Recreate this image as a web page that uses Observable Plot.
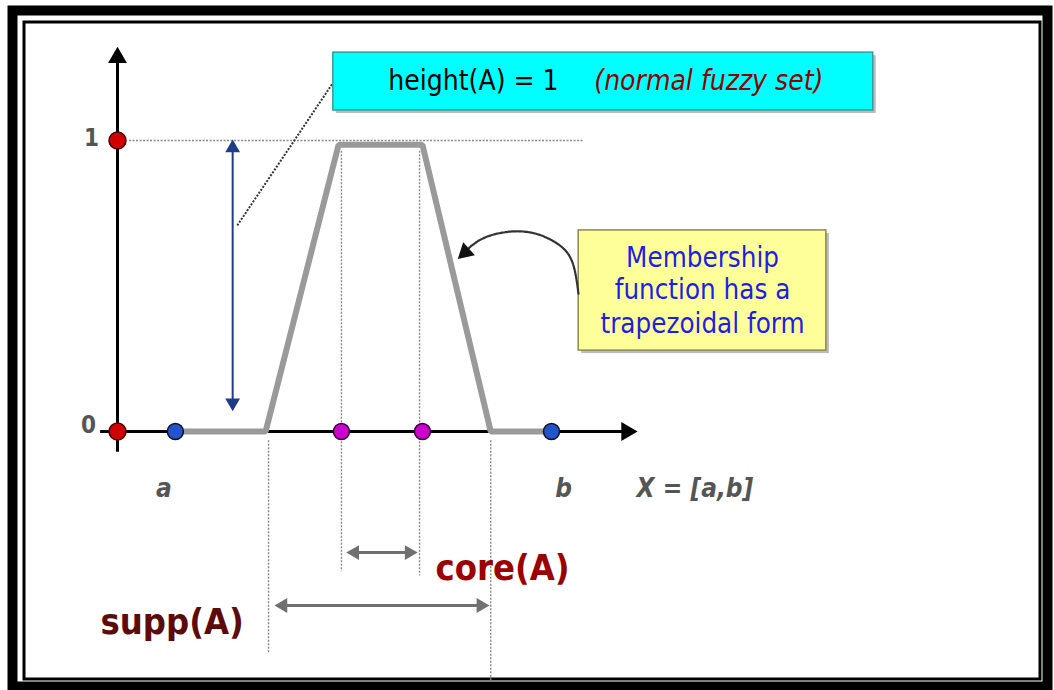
<!DOCTYPE html>
<html><head><meta charset="utf-8">
<script src="https://cdn.jsdelivr.net/npm/d3@7"></script>
<script src="https://cdn.jsdelivr.net/npm/@observablehq/plot@0.6"></script>
<style>html,body{margin:0;padding:0;background:#fff;overflow:hidden}</style>
</head><body><div id="chart"></div>
<script>
// Trapezoidal membership function (x in universe units, y = membership)
const trapX = [1, 2.56, 3.82, 5.27, 6.45, 7.5];
const trapY = [0, 0, 0.985, 0.985, 0, 0];
// Marked points
const redPts = [{x: 0, y: 0}, {x: 0, y: 1}];
const bluePts = [{x: 1, y: 0}, {x: 7.5, y: 0}];
const magentaPts = [{x: 3.87, y: 0}, {x: 5.27, y: 0}];
// Dotted guide lines
const guideH = [{x1: 0.2, x2: 8.05, y: 1}];
const guideV = [
  {x: 2.61, y1: -0.03, y2: -0.76},
  {x: 3.87, y1: 0.965, y2: -0.48},
  {x: 5.22, y1: 0.965, y2: -0.495},
  {x: 6.45, y1: -0.03, y2: -0.86}
];
// Curved callout path (yellow box -> right edge)
const curveX = [7.966, 7.862, 7.62, 7.223, 6.791, 6.394, 6.169, 6.065];
const curveY = [0.474, 0.581, 0.643, 0.680, 0.687, 0.670, 0.646, 0.629];
// Texts
const axisLabels = [{x: -0.45, y: 1.007, t: "1"}, {x: -0.5, y: 0.02, t: "0"}];
const xLabels = [{x: 0.8, y: -0.196, t: "a"}, {x: 7.71, y: -0.196, t: "b"}];
const universeLabel = "X = [a,b]";
const heightText = "height(A) = 1";
const normalText = "(normal fuzzy set)";
const mfLines = ["Membership", "function has a", "trapezoidal form"];
const mfLineY = [0.596, 0.484, 0.370];

const FONT = "'DejaVu Sans Condensed', 'DejaVu Sans', sans-serif";
const tri = (data, opts) => Plot.dot(data, {x: "x", y: "y", symbol: "triangle", rotate: "r", stroke: "none", ...opts});

const chart = Plot.plot({
  width: 1054, height: 690, margin: 0,
  x: {domain: [0, 7.5], range: [117, 551], axis: null},
  y: {domain: [0, 1], range: [431, 140], axis: null},
  style: {background: "#fff"},
  marks: [
    // outer frames
    Plot.frame({stroke: "#000", strokeWidth: 10, insetLeft: 12, insetTop: 10, insetRight: 7, insetBottom: 4}),
    Plot.frame({stroke: "#000", strokeWidth: 3, insetLeft: 23.5, insetTop: 21.5, insetRight: 14.5, insetBottom: 11.5}),
    // dotted guides
    Plot.link(guideH, {x1: "x1", x2: "x2", y1: "y", y2: "y", stroke: "#888", strokeWidth: 1.4, strokeDasharray: "2,1.5"}),
    Plot.link(guideV, {x1: "x", x2: "x", y1: "y1", y2: "y2", stroke: "#888", strokeWidth: 1.4, strokeDasharray: "2,1.5"}),
    // dashed connector to cyan box
    Plot.link([{x1: 2.07, y1: 0.708, x2: 3.73, y2: 1.2}], {x1: "x1", y1: "y1", x2: "x2", y2: "y2", stroke: "#333", strokeWidth: 2, strokeDasharray: "2,1.5"}),
    // axes
    Plot.link([{x1: 0, y1: -0.07, x2: 0, y2: 1.28}], {x1: "x1", y1: "y1", x2: "x2", y2: "y2", stroke: "#000", strokeWidth: 3}),
    tri([{x: 0, y: 1.285, r: 0}], {r: 7, fill: "#000"}),
    Plot.link([{x1: -0.3, y1: 0, x2: 8.8, y2: 0}], {x1: "x1", y1: "y1", x2: "x2", y2: "y2", stroke: "#000", strokeWidth: 3}),
    tri([{x: 8.8, y: 0, r: 90}], {r: 7, fill: "#000"}),
    // height arrow (navy)
    Plot.link([{x1: 1.99, y1: 0.974, x2: 1.99, y2: 0.099}], {x1: "x1", y1: "y1", x2: "x2", y2: "y2", stroke: "#1f3c88", strokeWidth: 2}),
    tri([{x: 1.99, y: 0.974, r: 0}, {x: 1.99, y: 0.099, r: 180}], {r: 5.5, fill: "#1f3c88"}),
    // trapezoid
    Plot.line(trapX.map((x, i) => ({x, y: trapY[i]})), {x: "x", y: "y", stroke: "#9a9a9a", strokeWidth: 6, strokeLinejoin: "miter"}),
    // dots
    Plot.dot(redPts, {x: "x", y: "y", r: 8.5, fill: "#d00000", stroke: "#400", strokeWidth: 1.5}),
    Plot.dot(bluePts, {x: "x", y: "y", r: 8, fill: "#2255cc", stroke: "#112", strokeWidth: 1.5}),
    Plot.dot(magentaPts, {x: "x", y: "y", r: 8, fill: "#cc00cc", stroke: "#303", strokeWidth: 1.5}),
    // core / supp arrows
    Plot.link([{x1: 4.05, x2: 5.09, y: -0.416}], {x1: "x1", x2: "x2", y1: "y", y2: "y", stroke: "#707070", strokeWidth: 3}),
    tri([{x: 4.10, y: -0.416, r: 270}, {x: 5.04, y: -0.416, r: 90}], {r: 5.5, fill: "#707070"}),
    Plot.link([{x1: 2.81, x2: 6.33, y: -0.598}], {x1: "x1", x2: "x2", y1: "y", y2: "y", stroke: "#707070", strokeWidth: 3}),
    tri([{x: 2.86, y: -0.598, r: 270}, {x: 6.28, y: -0.598, r: 90}], {r: 5.5, fill: "#707070"}),
    // cyan box
    Plot.rect([{x1: 3.73, x2: 13.06, y1: 1.302, y2: 1.103}], {x1: "x1", x2: "x2", y1: "y1", y2: "y2", fill: "#777", fillOpacity: 0.5, dx: 3, dy: 3}),
    Plot.rect([{x1: 3.73, x2: 13.06, y1: 1.302, y2: 1.103}], {x1: "x1", x2: "x2", y1: "y1", y2: "y2", fill: "#00ffff", stroke: "#3a9a9a", strokeWidth: 1.5}),
    Plot.text([heightText], {x: 4.68, y: 1.204, text: d => d, textAnchor: "start", fontSize: 28, fontFamily: FONT, fill: "#000"}),
    Plot.text([normalText], {x: 8.24, y: 1.204, text: d => d, textAnchor: "start", fontSize: 28, fontFamily: FONT, fontStyle: "italic", fill: "#8b0000"}),
    // yellow box
    Plot.rect([{x1: 7.97, x2: 12.25, y1: 0.691, y2: 0.278}], {x1: "x1", x2: "x2", y1: "y1", y2: "y2", fill: "#777", fillOpacity: 0.5, dx: 3, dy: 3}),
    Plot.rect([{x1: 7.97, x2: 12.25, y1: 0.691, y2: 0.278}], {x1: "x1", x2: "x2", y1: "y1", y2: "y2", fill: "#ffff99", stroke: "#8a8a50", strokeWidth: 1.5}),
    Plot.text(mfLines, {x: 10.11, y: (d, i) => mfLineY[i], text: d => d, fontSize: 27.5, fontFamily: FONT, fill: "#1e1ee6"}),
    // curved callout arrow
    Plot.line(curveX.map((x, i) => ({x, y: curveY[i]})), {x: "x", y: "y", curve: "natural", stroke: "#333", strokeWidth: 2.2, strokeDasharray: "2,1"}),
    tri([{x: 6.01, y: 0.616, r: 228}], {r: 6.5, fill: "#111"}),
    // labels
    Plot.text(axisLabels, {x: "x", y: "y", text: "t", fontSize: 24, fontWeight: "bold", fontFamily: FONT, fill: "#555"}),
    Plot.text(xLabels, {x: "x", y: "y", text: "t", fontSize: 26, fontWeight: "bold", fontStyle: "italic", fontFamily: FONT, fill: "#555"}),
    Plot.text([universeLabel], {x: 8.97, y: -0.196, text: d => d, textAnchor: "start", fontSize: 26, fontWeight: "bold", fontStyle: "italic", fontFamily: FONT, fill: "#555"}),
    Plot.text(["core(A)"], {x: 5.495, y: -0.471, text: d => d, textAnchor: "start", fontSize: 36, fontWeight: "bold", fontFamily: FONT, fill: "#9a0000"}),
    Plot.text(["supp(A)"], {x: -0.294, y: -0.656, text: d => d, textAnchor: "start", fontSize: 36, fontWeight: "bold", fontFamily: FONT, fill: "#5c0a0a"})
  ]
});
document.getElementById("chart").appendChild(chart);
</script>
</body></html>
